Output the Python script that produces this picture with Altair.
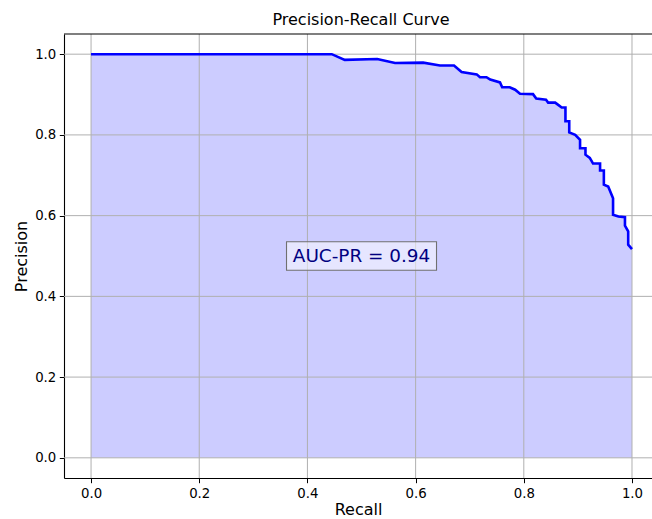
import altair as alt
import pandas as pd

# Precision-recall curve points (recall, precision), in drawing order
recall = [0.0, 0.445, 0.469, 0.529, 0.562, 0.614, 0.645, 0.671, 0.685, 0.713,
          0.719, 0.731, 0.738, 0.756, 0.760, 0.774, 0.784, 0.793, 0.817, 0.823,
          0.841, 0.845, 0.858, 0.863, 0.870, 0.877, 0.877, 0.884, 0.884, 0.895,
          0.904, 0.904, 0.914, 0.914, 0.922, 0.928, 0.941, 0.941, 0.948, 0.948,
          0.956, 0.965, 0.965, 0.975, 0.987, 0.987, 0.993, 0.993, 1.0]
precision = [1.0, 1.0, 0.986, 0.988, 0.978, 0.979, 0.972, 0.972, 0.956, 0.950,
             0.943, 0.943, 0.937, 0.930, 0.918, 0.918, 0.912, 0.902, 0.901, 0.890,
             0.887, 0.880, 0.880, 0.875, 0.868, 0.868, 0.834, 0.834, 0.806, 0.800,
             0.788, 0.767, 0.767, 0.751, 0.743, 0.729, 0.729, 0.712, 0.712, 0.677,
             0.672, 0.643, 0.602, 0.598, 0.596, 0.575, 0.561, 0.528, 0.517]
auc_pr = 0.94
tick_values = [0.0, 0.2, 0.4, 0.6, 0.8, 1.0]

df = pd.DataFrame({"recall": recall, "precision": precision, "idx": range(len(recall))})
ann = pd.DataFrame({"x": [0.5], "y": [0.5], "label": [f"AUC-PR = {auc_pr:.2f}"]})
ticks = pd.DataFrame({"v": tick_values})

FONT = "DejaVu Sans"
x_scale = alt.Scale(domain=[-0.05, 1.037], nice=False, zero=False)
y_scale = alt.Scale(domain=[-0.05, 1.05], nice=False, zero=False)

axis_style = dict(
    values=tick_values, format=".1f", grid=False,
    domainColor="black", domainWidth=1.1, tickColor="black",
    tickSize=4.7, tickWidth=1.05, labelPadding=3.5,
    labelFont=FONT, labelFontSize=13.3, labelColor="black",
    titleFont=FONT, titleFontSize=16, titleFontWeight="normal",
    titleColor="black",
)

x_enc = alt.X("recall:Q", scale=x_scale,
              axis=alt.Axis(title="Recall", titlePadding=2, **axis_style))
y_enc = alt.Y("precision:Q", scale=y_scale,
              axis=alt.Axis(title="Precision", titlePadding=5, **axis_style))

base = alt.Chart(df)

# shaded region under the curve
area = base.mark_area(color="blue", opacity=0.2, interpolate="linear").encode(
    x=x_enc, y=y_enc, y2=alt.datum(0)
)

# grid lines sit above the shading but below the curve
grid_x = alt.Chart(ticks).mark_rule(color="#b0b0b0", strokeWidth=1).encode(x="v:Q")
grid_y = alt.Chart(ticks).mark_rule(color="#b0b0b0", strokeWidth=1).encode(y="v:Q")

line = base.mark_line(color="blue", strokeWidth=2.6, strokeJoin="miter").encode(
    x="recall:Q", y="precision:Q", order="idx:Q"
)

# top spine of the frame
top_spine = alt.Chart(ann).mark_rule(color="black", strokeWidth=1.1).encode(
    y=alt.datum(1.05)
)

box = alt.Chart(ann).mark_point(
    shape="M-1,-0.19H1V0.19H-1Z", size=22500, filled=True,
    fill="white", fillOpacity=0.5, stroke="#707070", strokeWidth=1.1, opacity=1
).encode(x="x:Q", y="y:Q")

label = alt.Chart(ann).mark_text(
    font=FONT, fontSize=18.4, color="#000080", align="center", baseline="middle"
).encode(x="x:Q", y="y:Q", text="label:N")

chart = alt.layer(area, grid_x, grid_y, line, top_spine, box, label).properties(
    width=588, height=444,
    title=alt.TitleParams("Precision-Recall Curve", font=FONT, fontSize=16,
                          fontWeight="normal", color="black", offset=5, dx=3),
    autosize=alt.AutoSizeParams(type="none"),
    padding={"left": 64, "top": 34, "right": 0, "bottom": 41},
    background="white",
).configure_view(stroke=None)

chart.save("out.html", embed_options={"renderer": "svg", "actions": False})
